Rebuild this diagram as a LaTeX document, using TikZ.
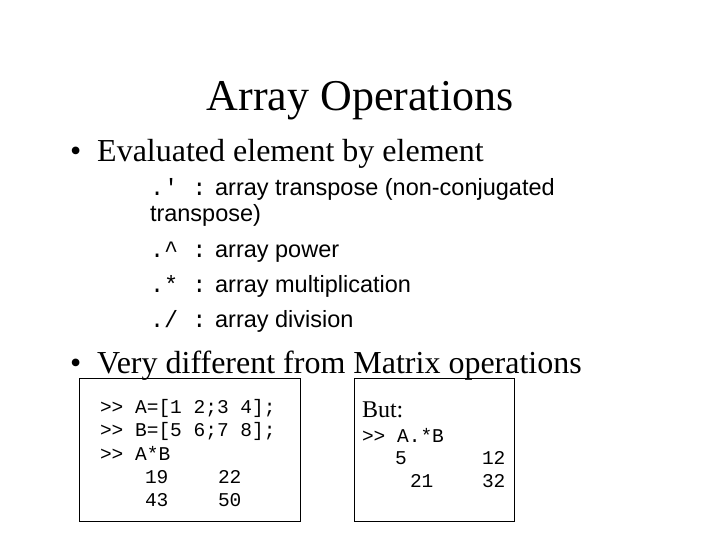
\documentclass[tikz,border=0pt]{standalone}
\usepackage{fontspec}
\setmainfont{Liberation Serif}
\setsansfont{Liberation Sans}
\setmonofont{Liberation Mono}
\tikzset{
  txt/.style = {anchor=base west, inner sep=0pt, outer sep=0pt},
  bullet/.style = {txt, font=\fontsize{32}{32}\selectfont},
  sub/.style = {txt, font=\fontsize{23.5}{23.5}\sffamily},
  code/.style = {txt, font=\fontsize{19.5}{19.5}\ttfamily},
  codebox/.style = {draw, line width=0.8pt}
}
\begin{document}
\begin{tikzpicture}[x=1pt,y=-1pt]
	\useasboundingbox (0,0) rectangle (720,540);

	% Title
	\node[anchor=base, inner sep=0pt, font=\fontsize{44}{44}\selectfont] (title) at (360,111) {Array Operations};

	% First bullet
	\node[bullet] (b1) at (70,162) {\textbullet\ \ Evaluated element by element};
	\node[sub] (s1) at (150,196) {\texttt{.' :} array transpose (non-conjugated};
	\node[sub] (s1b) at (150,222) {transpose)};
	\node[sub] (s2) at (150,257) {\texttt{.\textasciicircum{} :} array power};
	\node[sub] (s3) at (150,292) {\texttt{.* :} array multiplication};
	\node[sub] (s4) at (150,327) {\texttt{./ :} array division};

	% Second bullet
	\node[bullet] (b2) at (70,373) {\textbullet\ \ Very different from Matrix operations};

	% Left box
	\draw[codebox] (79,378) rectangle (300,521);
	\node[code] (l1) at (100,413) {>> A=[1 2;3 4];};
	\node[code] (l2) at (100,436) {>> B=[5 6;7 8];};
	\node[code] (l3) at (100,460) {>> A*B};
	\node[code] (l4) at (145,483) {19};
	\node[code] (l5) at (218,483) {22};
	\node[code] (l6) at (145,506) {43};
	\node[code] (l7) at (218,506) {50};

	% Right box
	\draw[codebox] (354,378) rectangle (514,521);
	\node[txt, font=\fontsize{24}{24}\selectfont] (r0) at (362,417) {But:};
	\node[code] (r1) at (362,442) {>> A.*B};
	\node[code] (r2) at (395,464) {5};
	\node[code] (r3) at (482,464) {12};
	\node[code] (r4) at (410,487) {21};
	\node[code] (r5) at (482,487) {32};
\end{tikzpicture}
\end{document}
